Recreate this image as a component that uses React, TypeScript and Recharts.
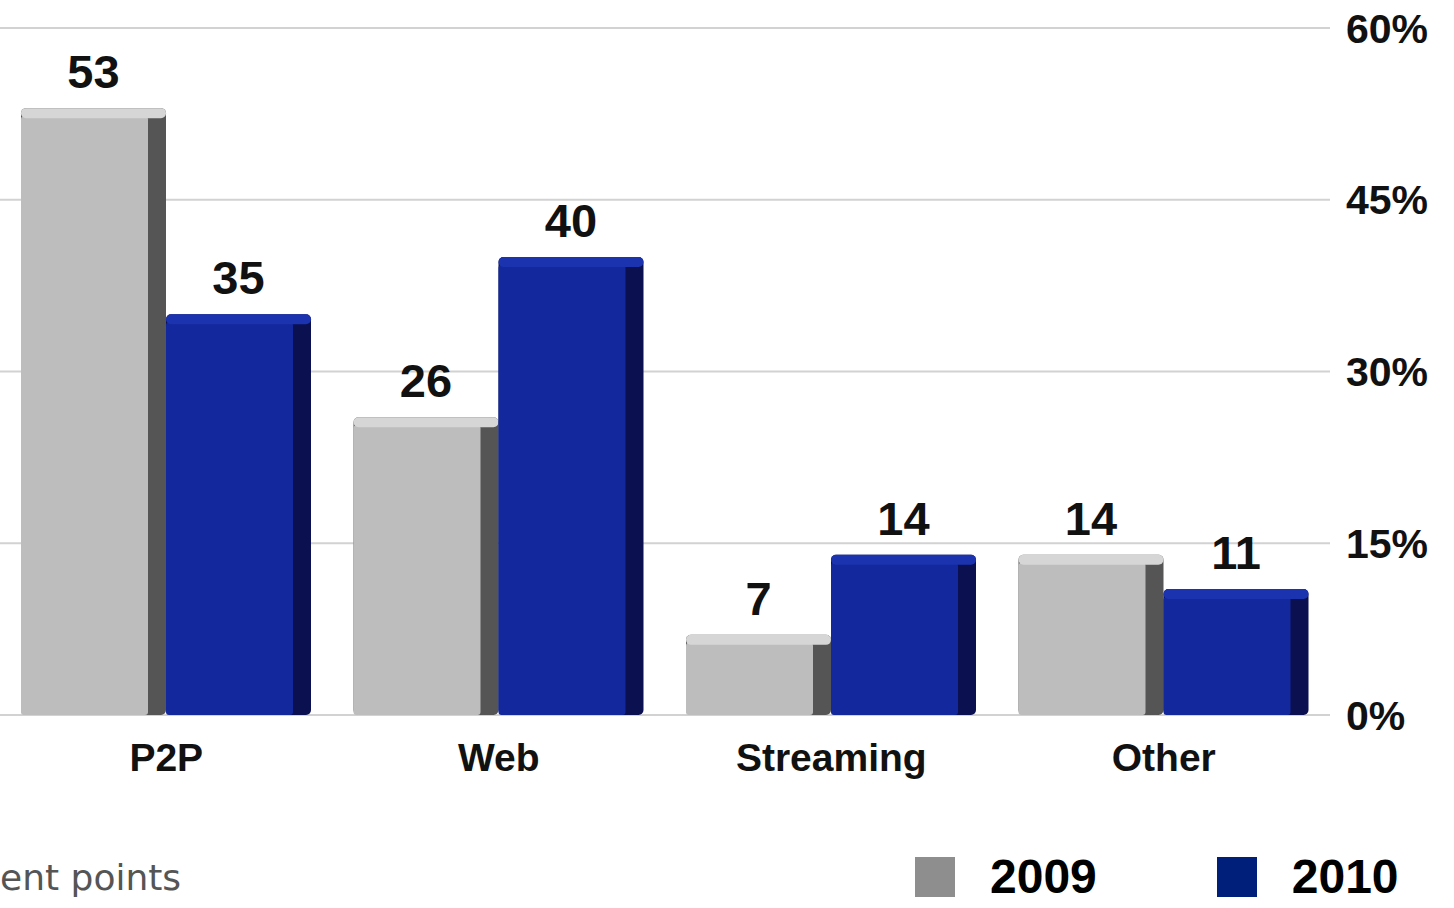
import { BarChart, Bar, XAxis, YAxis, CartesianGrid, LabelList } from 'recharts'

const categories = ['P2P', 'Web', 'Streaming', 'Other']
const share2009 = [53, 26, 7, 14]
const share2010 = [35, 40, 14, 11]
const yTicks = [0, 15, 30, 45, 60]
const years = ['2009', '2010']

const data = categories.map((category, i) => ({
  category,
  y2009: share2009[i],
  y2010: share2010[i],
}))

const FONT = "'Liberation Sans', Arial, sans-serif"

const palette = {
  '2009': { front: '#bdbdbd', side: '#555555', top: '#d6d6d6', legend: '#8e8e8e' },
  '2010': { front: '#13289c', side: '#0a1050', top: '#1c33b0', legend: '#001f7a' },
}

// front face + darker right side + light top, to hint at the 3D look
function boxShape(year: '2009' | '2010') {
  return (props: any) => {
    const { x, y, width, height } = props
    if (!height || height <= 0) return null
    const c = palette[year]
    const side = 18
    const cap = 8
    return (
      <g>
        <rect x={x} y={y} width={width} height={height} rx={5} fill={c.side} />
        <rect x={x} y={y + cap} width={width - side} height={height - cap} rx={3} fill={c.front} />
        <rect x={x} y={y} width={width} height={cap + 2} rx={5} fill={c.top} />
      </g>
    )
  }
}

const valueStyle = { fontSize: 47, fontWeight: 700, fill: '#111', fontFamily: FONT }

export default function App() {
  return (
    <div style={{ position: 'absolute', left: 0, top: 0, width: 1454, height: 908, background: '#fff', overflow: 'hidden' }}>
      <BarChart
        width={1454}
        height={790}
        data={data}
        margin={{ top: 28, right: 0, left: 0, bottom: 15 }}
        barGap={0}
        barSize={145}
      >
        <CartesianGrid vertical={false} stroke="#d2d2d2" strokeWidth={2} />
        <XAxis
          dataKey="category"
          axisLine={false}
          tickLine={false}
          tickMargin={22}
          height={60}
          tick={{ fontSize: 39, fontWeight: 700, fill: '#111', fontFamily: FONT }}
        />
        <YAxis
          orientation="right"
          domain={[0, 60]}
          ticks={yTicks}
          width={124}
          axisLine={false}
          tickLine={false}
          tickMargin={10}
          tickFormatter={(v: number) => `${v}%`}
          tick={{ fontSize: 41, fontWeight: 700, fill: '#111', fontFamily: FONT, textAnchor: 'start' }}
        />
        <Bar dataKey="y2009" name="2009" fill={palette['2009'].front} shape={boxShape('2009')} isAnimationActive={false}>
          <LabelList dataKey="y2009" position="top" offset={20} style={valueStyle} />
        </Bar>
        <Bar dataKey="y2010" name="2010" fill={palette['2010'].front} shape={boxShape('2010')} isAnimationActive={false}>
          <LabelList dataKey="y2010" position="top" offset={20} style={valueStyle} />
        </Bar>
      </BarChart>

      <div
        style={{
          position: 'absolute',
          left: 0,
          top: 858,
          fontFamily: "'DejaVu Sans', sans-serif",
          fontSize: 36,
          lineHeight: '40px',
          color: '#555',
          whiteSpace: 'nowrap',
        }}
      >
        ent points
      </div>

      <div style={{ position: 'absolute', left: 915, top: 854, display: 'flex', alignItems: 'center' }}>
        {years.map((yr, i) => (
          <div key={yr} style={{ display: 'flex', alignItems: 'center', marginLeft: i ? 120 : 0 }}>
            <div style={{ width: 40, height: 40, background: palette[yr as '2009' | '2010'].legend }} />
            <span style={{ marginLeft: 35, fontFamily: FONT, fontWeight: 700, fontSize: 48, color: '#000', lineHeight: '46px' }}>
              {yr}
            </span>
          </div>
        ))}
      </div>
    </div>
  )
}
